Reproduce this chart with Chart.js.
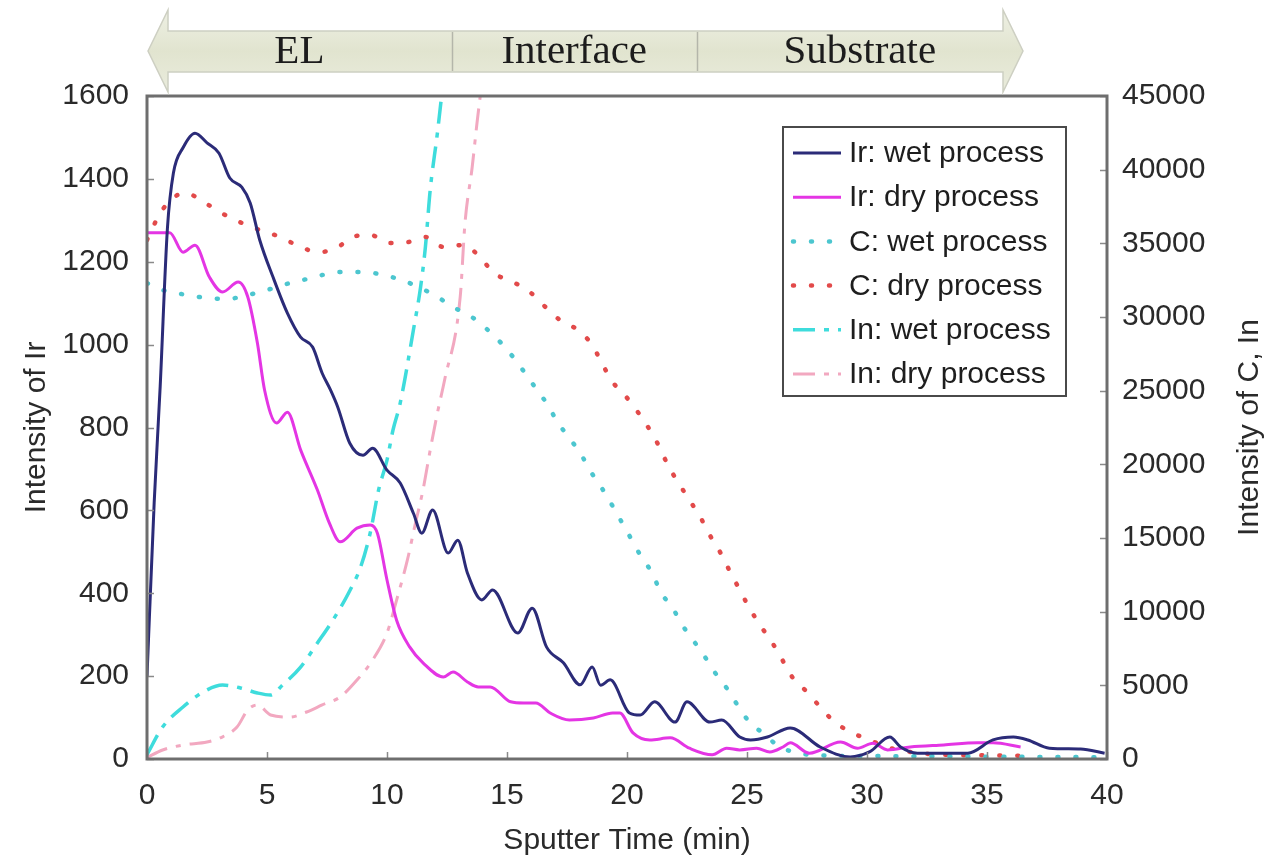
<!DOCTYPE html>
<html>
<head>
<meta charset="utf-8">
<title>Sputter depth profile</title>
<script src="https://cdn.jsdelivr.net/npm/chart.js@4.4.1/dist/chart.umd.min.js"></script>
<style>
  html, body { margin: 0; padding: 0; background: #fff; }
  canvas { display: block; }
</style>
</head>
<body>
<canvas id="profile" width="1269" height="862"></canvas>
<script>
// sputter time (min) and intensity per trace
var irWetTime = [0, 0.3, 0.55, 0.85, 1.1, 1.5, 2.0, 2.5, 3.0, 3.45, 3.95, 4.3, 4.7, 5.25, 5.85, 6.4, 6.9, 7.3, 7.65, 7.95, 8.45, 9.0, 9.4, 10.0, 10.55, 11.1, 11.45, 11.9, 12.55, 12.95, 13.35, 13.95, 14.4, 15.45, 16.05, 16.65, 17.35, 18.05, 18.55, 18.9, 19.3, 20.1, 20.55, 21.15, 22.0, 22.5, 23.45, 23.95, 24.7, 25.15, 25.85, 26.8, 28.05, 29.3, 30.1, 30.95, 31.4, 32.1, 33.2, 34.2, 35.25, 36.1, 36.7, 37.6, 38.9, 39.9];
var irWet = [200, 620, 900, 1280, 1414, 1475, 1510, 1487, 1462, 1402, 1380, 1342, 1252, 1163, 1076, 1018, 994, 931, 890, 849, 762, 733, 750, 697, 666, 593, 545, 601, 497, 528, 449, 384, 408, 304, 364, 270, 232, 179, 222, 178, 191, 111, 106, 138, 89, 138, 89, 94, 53, 46, 53, 75, 29, 5, 17, 53, 29, 14, 14, 14, 46, 53, 46, 26, 24, 14];

var irDryTime = [0, 0.95, 1.5, 2.0, 2.6, 3.15, 3.8, 4.2, 4.6, 4.9, 5.4, 5.85, 6.4, 7.1, 7.6, 8.05, 8.75, 9.3, 9.6, 10.0, 10.4, 10.95, 11.5, 12.35, 12.75, 13.35, 13.8, 14.3, 15.15, 15.7, 16.2, 16.8, 17.6, 18.6, 19.4, 19.7, 20.25, 20.95, 21.8, 22.6, 23.55, 24.15, 24.7, 25.4, 25.95, 26.5, 26.8, 27.6, 28.9, 29.6, 30.25, 30.85, 31.8, 33.2, 34.6, 35.25, 36.4];
var irDry = [1270, 1270, 1223, 1240, 1163, 1127, 1151, 1115, 1004, 890, 811, 837, 746, 649, 569, 524, 557, 565, 545, 432, 335, 270, 232, 198, 210, 186, 174, 174, 138, 135, 135, 111, 94, 99, 111, 111, 63, 46, 51, 26, 10, 26, 22, 26, 17, 29, 39, 14, 41, 26, 38, 22, 29, 34, 39, 39, 29];

var cWetTime = [0, 0.65, 1.7, 2.5, 3.3, 4.2, 5.0, 5.65, 6.5, 7.3, 8.15, 9.0, 9.85, 10.6, 11.4, 12.1, 12.75, 13.6, 14.2, 14.75, 15.25, 15.75, 16.25, 16.7, 17.1, 17.6, 18.1, 18.5, 18.95, 19.4, 19.8, 20.2, 20.6, 21.05, 21.4, 21.9, 22.3, 22.75, 23.25, 23.65, 24.15, 24.6, 25.1, 25.65, 26.3, 27.0, 28.0, 30.0, 33.0, 36.0, 40.0];
var cWet = [32300, 31830, 31490, 31290, 31220, 31490, 31830, 32170, 32510, 32850, 33055, 33055, 32850, 32510, 31970, 31360, 30680, 29930, 29120, 28240, 27290, 26200, 25050, 24030, 22870, 21790, 20630, 19480, 18390, 17170, 16020, 14870, 13710, 12620, 11340, 10250, 9100, 8080, 6920, 5900, 4820, 3670, 2510, 1770, 900, 450, 250, 200, 180, 150, 120];

var cDryTime = [0, 0.4, 0.9, 1.6, 2.35, 3.1, 3.95, 4.7, 5.55, 6.4, 7.15, 7.9, 8.55, 9.3, 10.1, 10.9, 11.6, 12.35, 13.2, 13.9, 14.45, 15.25, 15.95, 16.6, 17.2, 17.95, 18.55, 18.95, 19.4, 19.9, 20.45, 20.9, 21.35, 21.7, 22.15, 22.6, 23.05, 23.45, 23.9, 24.3, 24.7, 25.1, 25.6, 26.05, 26.45, 26.9, 27.5, 28.05, 28.65, 29.4, 30.1, 30.95, 31.8, 33.0, 35.0, 36.7];
var cDry = [35230, 36590, 37810, 38420, 37810, 37060, 36380, 35900, 35430, 34750, 34410, 34680, 35430, 35570, 35020, 35090, 35430, 34750, 34890, 34010, 32990, 32380, 31700, 30680, 29800, 29120, 28100, 26880, 25590, 24710, 23550, 22470, 21180, 19960, 18730, 17580, 16430, 15200, 13980, 12690, 11470, 10250, 8960, 7900, 6790, 5530, 4550, 3530, 2510, 1770, 1290, 750, 475, 300, 250, 220];

var inWetTime = [0, 0.65, 1.5, 2.35, 3.15, 3.9, 4.6, 5.15, 5.65, 6.4, 7.1, 7.75, 8.4, 8.9, 9.3, 9.65, 10.0, 10.25, 10.55, 11.1, 11.4, 11.6, 11.8, 12.1, 12.45];
var inWet = [300, 2170, 3530, 4550, 5020, 4820, 4480, 4340, 5020, 6240, 7870, 9440, 11270, 13030, 15340, 18260, 20290, 22330, 24160, 29120, 32040, 34750, 38620, 42490, 47600];

var inDryTime = [0, 0.65, 1.5, 2.5, 3.05, 3.75, 4.2, 4.6, 5.15, 5.95, 6.65, 7.3, 8.05, 8.75, 9.4, 10.0, 10.4, 10.85, 11.15, 11.5, 11.8, 12.1, 12.4, 13.05, 13.25, 13.55, 13.75, 14.0];
var inDry = [100, 610, 950, 1150, 1430, 2170, 3330, 3670, 2990, 2850, 3190, 3670, 4210, 5360, 6720, 8550, 10790, 13510, 15750, 18260, 20970, 23480, 25720, 31360, 36380, 40180, 43170, 46500];

var seriesNames = ['Ir: wet process', 'Ir: dry process', 'C: wet process', 'C: dry process', 'In: wet process', 'In: dry process'];

// depth regions shown in the arrow above the plot
var regionNames = ['EL', 'Interface', 'Substrate'];
var regionBounds = [0, 12.7, 22.9, 36.5];

var timeTicks = [0, 5, 10, 15, 20, 25, 30, 35, 40];
var irTicks = [0, 200, 400, 600, 800, 1000, 1200, 1400, 1600];
var cInTicks = [0, 5000, 10000, 15000, 20000, 25000, 30000, 35000, 40000, 45000];

var SANS = '"Liberation Sans", Arial, sans-serif';
var INK = '#2a2a2a';

function pts(ts, vs) {
  return ts.map(function (t, i) { return { x: t, y: vs[i] }; });
}

function fixedTicks(values) {
  return function (scale) {
    scale.ticks = values.map(function (v) { return { value: v }; });
  };
}

// frame, inward tick marks, right axis title, legend box and region arrow
var decorations = {
  id: 'decorations',
  afterDraw: function (chart) {
    var ctx = chart.ctx;
    var a = chart.chartArea;
    var xs = chart.scales.x, yl = chart.scales.yIr, yr = chart.scales.yC;

    ctx.save();
    // inward ticks
    ctx.strokeStyle = '#8a8a8a';
    ctx.lineWidth = 1.5;
    ctx.beginPath();
    irTicks.forEach(function (v) {
      var y = Math.round(yl.getPixelForValue(v)) + 0.5;
      ctx.moveTo(a.left, y); ctx.lineTo(a.left + 7, y);
    });
    cInTicks.forEach(function (v) {
      var y = Math.round(yr.getPixelForValue(v)) + 0.5;
      ctx.moveTo(a.right, y); ctx.lineTo(a.right - 7, y);
    });
    timeTicks.forEach(function (v) {
      var x = Math.round(xs.getPixelForValue(v)) + 0.5;
      ctx.moveTo(x, a.bottom); ctx.lineTo(x, a.bottom - 7);
    });
    ctx.stroke();

    // plot frame
    ctx.strokeStyle = '#6e6e6e';
    ctx.lineWidth = 3;
    ctx.strokeRect(a.left, a.top, a.right - a.left, a.bottom - a.top);

    // right axis title, reading upwards
    ctx.save();
    ctx.translate(1250, (a.top + a.bottom) / 2);
    ctx.rotate(-Math.PI / 2);
    ctx.fillStyle = INK;
    ctx.font = '30px ' + SANS;
    ctx.textAlign = 'center';
    ctx.textBaseline = 'middle';
    ctx.fillText('Intensity of C, In', 0, 0);
    ctx.restore();

    // legend
    var bx = a.right - 324, by = a.top + 31, bw = 283, bh = 269;
    ctx.fillStyle = '#fff';
    ctx.fillRect(bx, by, bw, bh);
    ctx.strokeStyle = '#4a4a4a';
    ctx.lineWidth = 2;
    ctx.strokeRect(bx, by, bw, bh);
    ctx.font = '30px ' + SANS;
    ctx.textAlign = 'left';
    ctx.textBaseline = 'middle';
    chart.data.datasets.forEach(function (ds, i) {
      var y = by + 26 + i * 44.2;
      ctx.save();
      ctx.strokeStyle = ds.borderColor;
      ctx.lineWidth = ds.borderWidth;
      ctx.lineCap = ds.borderCapStyle || 'butt';
      ctx.setLineDash(ds.borderDash || []);
      ctx.beginPath();
      ctx.moveTo(bx + 10, y);
      ctx.lineTo(bx + 58, y);
      ctx.stroke();
      ctx.restore();
      ctx.fillStyle = '#1e1e1e';
      ctx.fillText(ds.label, bx + 66, y + 1);
    });

    // region arrow above the plot
    var xL = xs.getPixelForValue(regionBounds[0]) + 1;
    var xR = xs.getPixelForValue(regionBounds[regionBounds.length - 1]);
    var head = 20, tipY = 51, hTop = 10, hBot = 92, bTop = 31, bBot = 72;
    var g = ctx.createLinearGradient(0, hTop, 0, hBot);
    g.addColorStop(0, '#eef0e4');
    g.addColorStop(0.5, '#e1e4cf');
    g.addColorStop(1, '#eaecdd');
    ctx.beginPath();
    ctx.moveTo(xL, tipY);
    ctx.lineTo(xL + head, hTop);
    ctx.lineTo(xL + head, bTop);
    ctx.lineTo(xR - head, bTop);
    ctx.lineTo(xR - head, hTop);
    ctx.lineTo(xR, tipY);
    ctx.lineTo(xR - head, hBot);
    ctx.lineTo(xR - head, bBot);
    ctx.lineTo(xL + head, bBot);
    ctx.lineTo(xL + head, hBot);
    ctx.closePath();
    ctx.fillStyle = g;
    ctx.fill();
    ctx.strokeStyle = '#cdcfc2';
    ctx.lineWidth = 1.5;
    ctx.stroke();

    ctx.strokeStyle = '#b4b6aa';
    ctx.lineWidth = 1.5;
    for (var k = 1; k < regionBounds.length - 1; k++) {
      var dx = Math.round(xs.getPixelForValue(regionBounds[k])) + 0.5;
      ctx.beginPath();
      ctx.moveTo(dx, bTop + 1);
      ctx.lineTo(dx, bBot - 1);
      ctx.stroke();
    }
    ctx.fillStyle = '#1c1c1c';
    ctx.font = '41px "Liberation Serif", "Times New Roman", serif';
    ctx.textAlign = 'center';
    ctx.textBaseline = 'middle';
    regionNames.forEach(function (name, i) {
      var cx = xs.getPixelForValue((regionBounds[i] + regionBounds[i + 1]) / 2);
      ctx.fillText(name, cx, tipY + 1);
    });
    ctx.restore();
  }
};

var lineBase = {
  pointRadius: 0,
  fill: false,
  cubicInterpolationMode: 'monotone'
};

function series(name, ts, vs, axis, style) {
  return Object.assign({ label: name, data: pts(ts, vs), yAxisID: axis }, lineBase, style);
}

var datasets = [
  series(seriesNames[0], irWetTime, irWet, 'yIr', { borderColor: '#2b2b78', borderWidth: 3 }),
  series(seriesNames[1], irDryTime, irDry, 'yIr', { borderColor: '#e435e4', borderWidth: 3 }),
  series(seriesNames[2], cWetTime, cWet, 'yC', { borderColor: '#4cc6cf', borderWidth: 4.5, borderDash: [1, 17], borderCapStyle: 'round' }),
  series(seriesNames[3], cDryTime, cDry, 'yC', { borderColor: '#e24a4a', borderWidth: 4.5, borderDash: [1, 17], borderCapStyle: 'round' }),
  series(seriesNames[4], inWetTime, inWet, 'yC', { borderColor: '#3edcdc', borderWidth: 3.5, borderDash: [22, 9, 5, 9] }),
  series(seriesNames[5], inDryTime, inDry, 'yC', { borderColor: '#f2a8c0', borderWidth: 3, borderDash: [22, 9, 5, 9] })
];

var tickFont = { family: SANS, size: 30 };

new Chart(document.getElementById('profile'), {
  type: 'line',
  data: { datasets: datasets },
  options: {
    responsive: false,
    animation: false,
    layout: { padding: { top: 96, left: 0, right: 0, bottom: 0 } },
    plugins: {
      legend: { display: false },
      tooltip: { enabled: false }
    },
    scales: {
      x: {
        type: 'linear',
        min: 0,
        max: 40,
        afterBuildTicks: fixedTicks(timeTicks),
        afterFit: function (s) { s.height = 103; },
        grid: { display: false },
        border: { display: false },
        ticks: { font: tickFont, color: INK, padding: 11 },
        title: {
          display: true,
          text: 'Sputter Time (min)',
          font: { family: SANS, size: 30 },
          color: INK,
          padding: { top: 0, bottom: 3 }
        }
      },
      yIr: {
        position: 'left',
        min: 0,
        max: 1600,
        afterBuildTicks: fixedTicks(irTicks),
        afterFit: function (s) { s.width = 147; },
        grid: { display: false },
        border: { display: false },
        ticks: { font: tickFont, color: INK, padding: 10, callback: function (v) { return String(v); } },
        title: {
          display: true,
          text: 'Intensity of Ir',
          font: { family: SANS, size: 30 },
          color: INK,
          padding: { top: 19, bottom: 0 }
        }
      },
      yC: {
        position: 'right',
        min: 0,
        max: 45000,
        afterBuildTicks: fixedTicks(cInTicks),
        afterFit: function (s) { s.width = 162; },
        grid: { display: false },
        border: { display: false },
        ticks: { font: tickFont, color: INK, padding: 7, callback: function (v) { return String(v); } }
      }
    }
  },
  plugins: [decorations]
});
</script>
</body>
</html>
